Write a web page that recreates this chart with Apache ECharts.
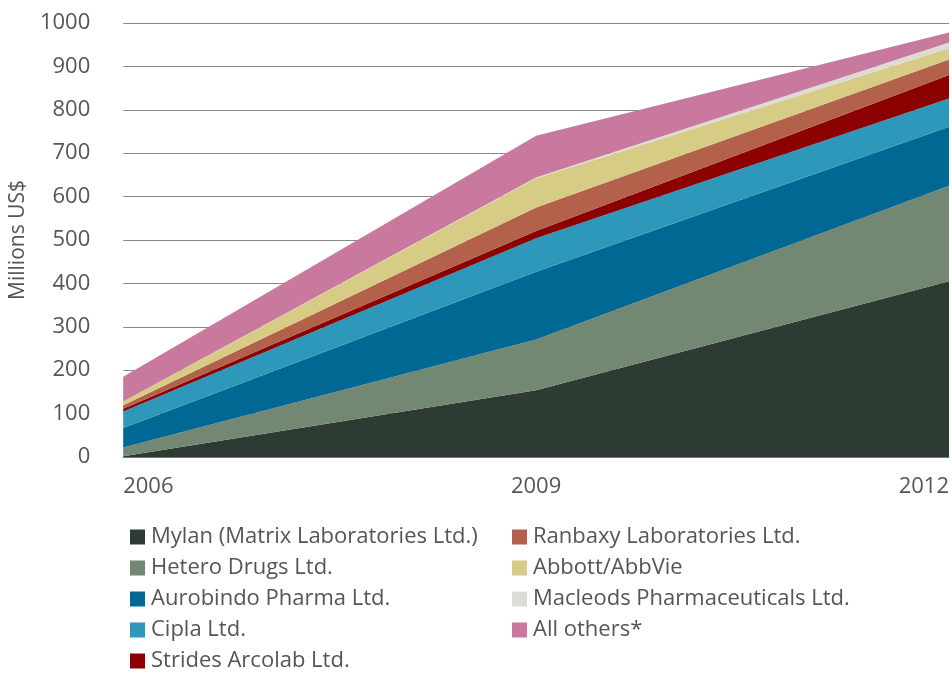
<!DOCTYPE html>
<html>
<head>
<meta charset="utf-8">
<script src="https://cdn.jsdelivr.net/npm/echarts@6/dist/echarts.min.js"></script>
<style>
  html, body { margin: 0; padding: 0; background: #fff; }
  #chart { width: 952px; height: 674px; }
</style>
</head>
<body>
<div id="chart"></div>
<script>
const years = ['2006', '2009', '2012'];

const mylan = [2, 154, 405];
const hetero = [20, 117, 220];
const aurobindo = [45, 156, 136];
const cipla = [38, 77, 65];
const strides = [6, 17, 54];
const ranbaxy = [8, 54, 36];
const abbott = [9, 67, 26];
const macleods = [0, 2, 13];
const others = [57, 96, 23];

const names = [
  'Mylan (Matrix Laboratories Ltd.)',
  'Hetero Drugs Ltd.',
  'Aurobindo Pharma Ltd.',
  'Cipla Ltd.',
  'Strides Arcolab Ltd.',
  'Ranbaxy Laboratories Ltd.',
  'Abbott/AbbVie',
  'Macleods Pharmaceuticals Ltd.',
  'All others*'
];
const values = [mylan, hetero, aurobindo, cipla, strides, ranbaxy, abbott, macleods, others];
const colors = ['#2e3b32', '#728873', '#006893', '#2e98ba', '#8b0000', '#b3614a', '#d6cc85', '#dcdcd6', '#c9799e'];

const font = 'Open Sans';
const textColor = '#555';

const chart = echarts.init(document.getElementById('chart'));

const legendBase = {
  orient: 'vertical',
  top: 521,
  height: 170,
  itemWidth: 15,
  itemHeight: 15,
  itemGap: 9,
  icon: 'rect',
  textStyle: { fontFamily: font, fontSize: 22, color: textColor, padding: [0, 0, 0, 1] }
};

const option = {
  animation: false,
  color: colors,
  grid: { left: 123, right: 3, top: 23, bottom: 217 },
  legend: [
    Object.assign({}, legendBase, { left: 125, data: names.slice(0, 5) }),
    Object.assign({}, legendBase, { left: 507, data: names.slice(5) })
  ],
  xAxis: {
    type: 'category',
    data: years,
    boundaryGap: false,
    axisLine: { lineStyle: { color: '#777', width: 1 } },
    axisTick: { show: false },
    axisLabel: {
      fontFamily: font, fontSize: 22, color: textColor, margin: 19,
      alignMinLabel: 'left', alignMaxLabel: 'right'
    }
  },
  yAxis: {
    type: 'value',
    min: 0,
    max: 1000,
    interval: 100,
    name: 'Millions US$',
    nameLocation: 'middle',
    nameGap: 86,
    nameTextStyle: { fontFamily: font, fontSize: 21, color: textColor },
    axisLine: { show: false },
    axisTick: { show: false },
    axisLabel: { fontFamily: font, fontSize: 22, color: textColor, margin: 33, formatter: v => String(v) },
    splitLine: { lineStyle: { color: '#888', width: 1 } }
  },
  series: names.map((n, i) => ({
    name: n,
    type: 'line',
    stack: 'total',
    data: values[i],
    symbol: 'none',
    lineStyle: { width: 0 },
    areaStyle: { opacity: 1, color: colors[i] },
    itemStyle: { color: colors[i] }
  }))
};

chart.setOption(option);
</script>
</body>
</html>
